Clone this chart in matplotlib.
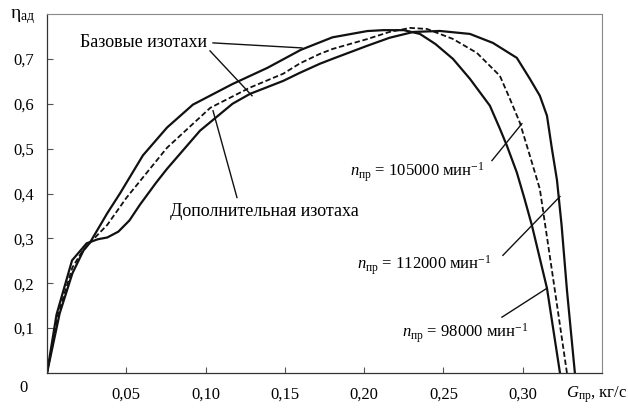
import matplotlib
matplotlib.use("Agg")
import matplotlib.pyplot as plt

plt.rcParams['font.family'] = ['Liberation Serif', 'DejaVu Serif']
plt.rcParams['mathtext.fontset'] = 'custom'
plt.rcParams['mathtext.rm'] = 'Liberation Serif'
plt.rcParams['mathtext.it'] = 'Liberation Serif:italic'

# изотаха n = 98000 мин-1 (базовая)
g_98 = [0, 0.008, 0.016, 0.023, 0.027, 0.038, 0.046, 0.0605, 0.0757, 0.092, 0.117, 0.139,
        0.16, 0.18, 0.202, 0.212, 0.225, 0.2352, 0.245, 0.256, 0.2667, 0.2793, 0.2856, 0.29,
        0.2963, 0.301, 0.3058, 0.3153, 0.3235]
eta_98 = [0, 0.133, 0.222, 0.273, 0.29, 0.356, 0.40, 0.485, 0.547, 0.598, 0.644, 0.68,
          0.72, 0.748, 0.762, 0.764, 0.764, 0.7556, 0.733, 0.70, 0.6556, 0.5956, 0.5444, 0.5067,
          0.4467, 0.39, 0.3289, 0.1889, 0]

# изотаха n = 105000 мин-1 (дополнительная)
g_105 = [0, 0.007, 0.016, 0.022, 0.027, 0.038, 0.05, 0.0757, 0.103, 0.128, 0.149, 0.1595,
         0.172, 0.18, 0.2018, 0.216, 0.229, 0.2396, 0.256, 0.2711, 0.2856, 0.2919, 0.2982,
         0.3045, 0.3108, 0.319, 0.3279]
eta_105 = [0, 0.13, 0.235, 0.27, 0.29, 0.33, 0.39, 0.502, 0.591, 0.636, 0.667, 0.69,
           0.711, 0.722, 0.744, 0.76, 0.769, 0.7667, 0.7444, 0.7133, 0.6622, 0.6111, 0.5578,
           0.4844, 0.41, 0.215, 0]

# изотаха n = 112000 мин-1 (базовая)
g_112 = [0, 0.006, 0.0158, 0.025, 0.032, 0.038, 0.045, 0.052, 0.0586, 0.069, 0.0757, 0.0965,
         0.117, 0.128, 0.149, 0.1595, 0.172, 0.18, 0.2018, 0.216, 0.231, 0.2478, 0.2667,
         0.2812, 0.2963, 0.3045, 0.3108, 0.3153, 0.3184, 0.3216, 0.3245, 0.3279, 0.3329]
eta_112 = [0, 0.13, 0.251, 0.289, 0.298, 0.302, 0.315, 0.34, 0.375, 0.425, 0.455, 0.54,
           0.6, 0.622, 0.651, 0.669, 0.689, 0.70, 0.729, 0.747, 0.76, 0.7622, 0.7556,
           0.7356, 0.7022, 0.6556, 0.6178, 0.5733, 0.50, 0.43, 0.33, 0.1844, 0]

x_ticks = [0.05, 0.10, 0.15, 0.20, 0.25, 0.30]
x_labels = ['0,05', '0,10', '0,15', '0,20', '0,25', '0,30']
y_ticks = [0.1, 0.2, 0.3, 0.4, 0.5, 0.6, 0.7]
y_labels = ['0,1', '0,2', '0,3', '0,4', '0,5', '0,6', '0,7']

fig = plt.figure(figsize=(6.28, 4.08), dpi=100)
ax = fig.add_axes([47 / 628, 1 - 373 / 408, 555 / 628, 359 / 408])

ax.plot(g_98, eta_98, color='#111111', lw=1.6)
ax.plot(g_112, eta_112, color='#111111', lw=1.6)
ax.plot(g_105, eta_105, color='#111111', lw=1.3, dashes=(3, 1.5))

ax.set_xlim(0, 0.35)
ax.set_ylim(0, 0.8)
ax.set_xticks(x_ticks)
ax.set_xticklabels(x_labels)
ax.set_yticks(y_ticks)
ax.set_yticklabels(y_labels)
ax.tick_params(direction='in', length=4, width=0.8, color='#555555', labelsize=12)
ax.tick_params(axis='x', pad=10)
ax.tick_params(axis='y', pad=9)

for s in ['left', 'bottom']:
    ax.spines[s].set_color('#333333')
    ax.spines[s].set_linewidth(0.9)
for s in ['top', 'right']:
    ax.spines[s].set_color('#888888')
    ax.spines[s].set_linewidth(0.8)

# подписи осей
fig.text(10 / 628, 1 - 17 / 408, r'$\mathrm{η}_{\mathrm{ад}}$', fontsize=14, ha='left', va='center')
fig.text(23 / 628, 1 - 388 / 408, '0', fontsize=12, ha='center', va='center')
fig.text(566 / 628, 1 - 395 / 408, r'$G_{\mathrm{пр}}$, кг/с', fontsize=12, ha='left', va='center')

# выноски
lk = dict(color='#111111', lw=1.0)
ax.text(0.0208, 0.7356, 'Базовые изотахи', fontsize=13, ha='left', va='center')
ax.plot([0.1047, 0.1608], [0.7356, 0.7244], **lk)
ax.plot([0.1028, 0.1293], [0.7178, 0.6178], **lk)

ax.text(0.0776, 0.36, 'Дополнительная изотаха', fontsize=13, ha='left', va='center')
ax.plot([0.1047, 0.1198], [0.5844, 0.391], **lk)

ax.text(0.191, 0.4467, r'$n_{\mathrm{пр}}$ = 105000 мин$^{-1}$', fontsize=12, ha='left', va='center')
ax.plot([0.2806, 0.2995], [0.4733, 0.5556], **lk)

ax.text(0.1955, 0.24, r'$n_{\mathrm{пр}}$ = 112000 мин$^{-1}$', fontsize=12, ha='left', va='center')
ax.plot([0.2875, 0.3235], [0.2622, 0.3933], **lk)

ax.text(0.2238, 0.0889, r'$n_{\mathrm{пр}}$ = 98000 мин$^{-1}$', fontsize=12, ha='left', va='center')
ax.plot([0.2869, 0.3153], [0.1244, 0.1889], **lk)

fig.savefig('out.png', dpi=100)
